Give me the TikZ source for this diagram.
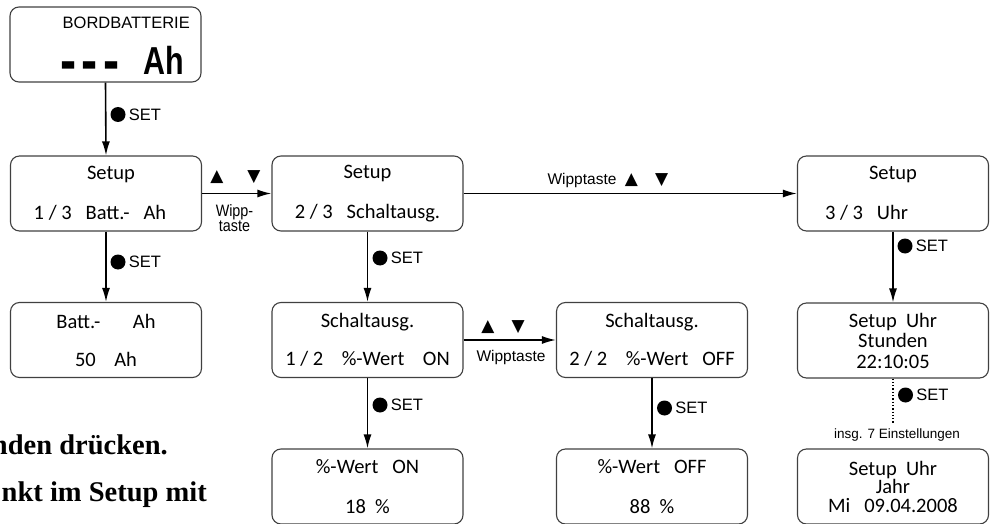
\documentclass[tikz,border=0pt]{standalone}
\usepackage{fontspec}
\newfontfamily\lcdfont{Carlito}
\newfontfamily\keyfont{Liberation Sans}
\newfontfamily\narrowfont{Liberation Sans}[FakeStretch=0.87]
\newfontfamily\bigfont{Liberation Sans}[FakeStretch=0.78]
\newfontfamily\symfont{DejaVu Sans}
\newfontfamily\docfont{Liberation Serif}
\usetikzlibrary{arrows.meta}

\tikzset{
  lcd/.style={draw=black!75, line width=1.1pt, rounded corners=9pt,
    minimum width=191pt, minimum height=75pt, inner sep=0pt, align=center,
    font=\lcdfont\fontsize{20.5}{24}\selectfont},
  flow/.style={-{Latex[length=14pt,width=8pt]}, line width=1.6pt},
  setkey/.style={circle, fill, inner sep=0pt, minimum size=15pt,
    label={[font=\keyfont\fontsize{16.5}{16.5}\selectfont, inner sep=0pt, label distance=3pt]right:SET}},
  keytext/.style={inner sep=0pt, align=center, font=\keyfont\fontsize{15.5}{15.5}\selectfont},
  tri/.style={inner sep=0pt, font=\symfont\fontsize{17}{17}\selectfont},
  note/.style={inner sep=0pt, anchor=base east, font=\docfont\bfseries\fontsize{28.5}{28.5}\selectfont}
}

\begin{document}
\begin{tikzpicture}[x=1pt,y=-1pt]
  \clip (0,0) rectangle (991,524);

  % Anzeige Bordbatterie
  \node[lcd] (bord) at (105.5,44.5) {};
  \node[inner sep=0pt, anchor=east, font=\keyfont\fontsize{16.5}{16.5}\selectfont] (bordtxt) at (190,23) {BORDBATTERIE};
  \node[inner sep=0pt, anchor=base, font=\bigfont\bfseries\fontsize{62}{62}\selectfont] (borddash) at (90,82) {-\hspace{5pt}-\hspace{5pt}-};
  \node[inner sep=0pt, anchor=base east, font=\bigfont\bfseries\fontsize{39}{39}\selectfont] (bordah) at (184,75) {Ah};

  % Setup-Ebene
  \node[lcd] (setup1) at (106,193.5) {\hspace*{10pt}Setup\\[16pt]1 / 3~~~Batt.-~~~Ah\hspace*{12pt}};
  \node[lcd] (setup2) at (367.5,193.5) {Setup\\[16pt]2 / 3~~~Schaltausg.};
  \node[lcd] (setup3) at (893,193.5) {Setup\\[16pt]\makebox[136pt][l]{3 / 3~~~Uhr}};

  % Untermenues
  \node[lcd] (batt) at (106,340) {Batt.-~~~~~~~Ah\\[14pt]50~~~~Ah};
  \node[lcd] (schalt1) at (367.5,340) {Schaltausg.\\[14pt]1 / 2~~~~\%-Wert~~~~ON};
  \node[lcd] (schalt2) at (652,340) {Schaltausg.\\[14pt]2 / 2~~~~\%-Wert~~~OFF};
  \node[lcd] (wertOn) at (367.5,486.5) {\%-Wert~~~ON\\[16pt]18~~\%};
  \node[lcd] (wertOff) at (652,486.5) {\%-Wert~~~OFF\\[16pt]88~~\%};
  \node[lcd, font=\lcdfont\fontsize{20.5}{20.5}\selectfont] (uhrStd) at (893,340.5) {Setup~~Uhr\\Stunden\\22:10:05};
  \node[lcd, font=\lcdfont\fontsize{20.5}{18.5}\selectfont] (uhrJahr) at (893,486.5) {Setup~~Uhr\\Jahr\\Mi~~~09.04.2008};

  % Pfeile
  \draw[flow] (bord.south) -- (setup1.north);
  \draw[flow] (setup1.south) -- (batt.north);
  \draw[flow] (setup1.east) -- (setup2.west);
  \draw[flow] (setup2.east) -- (setup3.west);
  \draw[flow] (setup2.south) -- (schalt1.north);
  \draw[flow] (schalt1.east) -- (schalt2.west);
  \draw[flow] (schalt1.south) -- (wertOn.north);
  \draw[flow] (schalt2.south) -- (wertOff.north);
  \draw[flow] (setup3.south) -- (uhrStd.north);
  \coordinate (more) at (893,423);
  \draw[dotted, line width=1.3pt] (uhrStd.south) -- (more);

  % SET-Taste
  \node[setkey] (set1) at (118,114.5) {};
  \node[setkey] (set2) at (118,262) {};
  \node[setkey] (set3) at (380,258) {};
  \node[setkey] (set4) at (380,405) {};
  \node[setkey] (set5) at (664.5,408) {};
  \node[setkey] (set6) at (905,246) {};
  \node[setkey] (set7) at (905.5,395) {};

  % Wipptaste
  \node[tri] (keys1) at (235.5,177) {▲\hspace{24pt}▼};
  \node[keytext, font=\narrowfont\fontsize{16.5}{15}\selectfont] (wipp1) at (234.5,218) {Wipp-\\taste};
  \node[keytext] (wipp2) at (582,180) {Wipptaste};
  \node[tri] (keys2) at (646.5,180) {▲\hspace{17pt}▼};
  \node[tri] (keys3) at (503,327) {▲\hspace{17pt}▼};
  \node[keytext] (wipp3) at (511,357) {Wipptaste};
  \node[keytext, font=\keyfont\fontsize{13.5}{13.5}\selectfont] (insg) at (897,435) {insg. 7 Einstellungen};

  % Text der Seite
  \node[note] (note1) at (168,454) {nden drücken.};
  \node[note] (note2) at (207,501) {nkt im Setup mit};
\end{tikzpicture}
\end{document}
